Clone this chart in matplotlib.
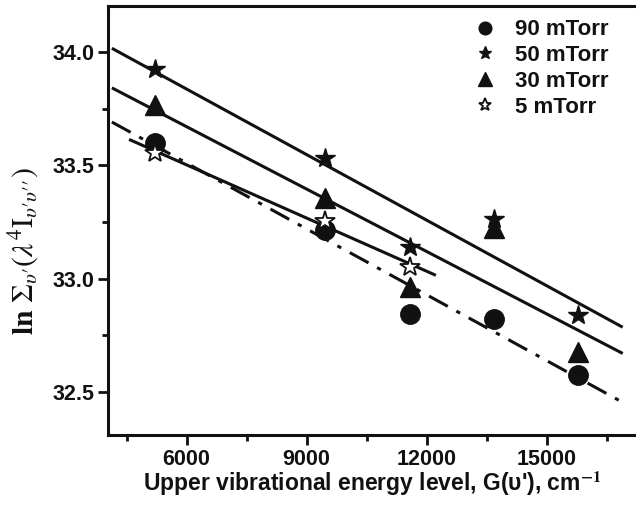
import numpy as np
import matplotlib
matplotlib.use("Agg")
import matplotlib.pyplot as plt
from matplotlib.ticker import MultipleLocator

plt.rcParams['font.family'] = ['Liberation Sans', 'DejaVu Sans']
plt.rcParams['mathtext.fontset'] = 'stix'

# Data
x_levels = [5220, 9450, 11580, 13690, 15790]
y_90 = [33.600, 33.215, 32.845, 32.822, 32.575]
y_50 = [33.924, 33.531, 33.141, 33.265, 32.840]
y_30 = [33.765, 33.357, 32.965, 33.225, 32.678]
x_5 = [5220, 9450, 11580]
y_5 = [33.555, 33.255, 33.050]
labels = ['90 mTorr', '50 mTorr', '30 mTorr', '5 mTorr']

fit_range_long = [4130, 16900]
fit_range_short = [4560, 12230]

fig = plt.figure(figsize=(6.36, 5.18), dpi=100)
ax = fig.add_axes([108/636, 83/518, 1 - 108/636, 429/518])

lw = 2.2
ink = '#111111'

def fit_line(xs, ys, xr):
    p = np.polyfit(xs, ys, 1)
    xr = np.array(xr, dtype=float)
    return xr, np.polyval(p, xr)

# fit lines
xx, yy = fit_line(x_levels, y_50, fit_range_long)
ax.plot(xx, yy, color=ink, lw=lw, solid_capstyle='butt')
xx, yy = fit_line(x_levels, y_30, fit_range_long)
ax.plot(xx, yy, color=ink, lw=lw, solid_capstyle='butt')
xx, yy = fit_line(x_5, y_5, fit_range_short)
ax.plot(xx, yy, color=ink, lw=lw, solid_capstyle='butt')
xx, yy = fit_line(x_levels, y_90, fit_range_long)
ax.plot(xx, yy, color=ink, lw=lw, dashes=(7, 3.2, 1.4, 3.2))

# markers
ax.plot(x_levels, y_90, 'o', color=ink, ms=14, ls='none', label=labels[0], zorder=3)
ax.plot(x_levels, y_50, '*', color=ink, ms=15, ls='none', label=labels[1], zorder=3)
ax.plot(x_levels, y_30, '^', color=ink, ms=15, ls='none', label=labels[2], zorder=3)
ax.plot(x_5, y_5, '*', mfc='white', mec=ink, mew=1.3, ms=15, ls='none', label=labels[3], zorder=4)

ax.set_xlim(4033, 17233)
ax.set_ylim(32.31, 34.203)

ax.set_xticks([6000, 9000, 12000, 15000])
ax.xaxis.set_minor_locator(MultipleLocator(1500))
ax.yaxis.set_major_locator(MultipleLocator(0.5))
ax.yaxis.set_minor_locator(MultipleLocator(0.25))

for sp in ['left', 'bottom', 'top']:
    ax.spines[sp].set_linewidth(2.2)
    ax.spines[sp].set_color(ink)
ax.spines['right'].set_visible(False)

ax.tick_params(which='major', direction='out', length=7, width=2, color=ink,
               labelsize=15.5, pad=3)
ax.tick_params(which='minor', direction='out', length=4, width=2, color=ink)
ax.tick_params(top=False, right=False, which='both')
for t in ax.get_xticklabels() + ax.get_yticklabels():
    t.set_fontweight('bold')
    t.set_color(ink)

ax.set_xlabel("Upper vibrational energy level, G(\u03c5'), cm$^{\\mathbf{-1}}$",
              fontsize=16.5, fontweight='bold', color=ink, labelpad=0)
ax.set_ylabel(r"$\mathbf{ln}\ \Sigma_{\upsilon\prime}(\lambda^{4}\mathrm{I}_{\upsilon\prime\upsilon\prime\prime})$",
              fontsize=21.5, color=ink)
ax.yaxis.set_label_coords(-0.127, 0.429)

leg = ax.legend(loc='upper left', bbox_to_anchor=(0.693, 0.969), frameon=False,
                prop={'weight': 'bold', 'size': 16}, markerscale=0.65,
                handlelength=1.0, handletextpad=0.85, labelspacing=0.22,
                borderaxespad=0, borderpad=0)
for t in leg.get_texts():
    t.set_color(ink)

fig.savefig('out.png', dpi=100)
